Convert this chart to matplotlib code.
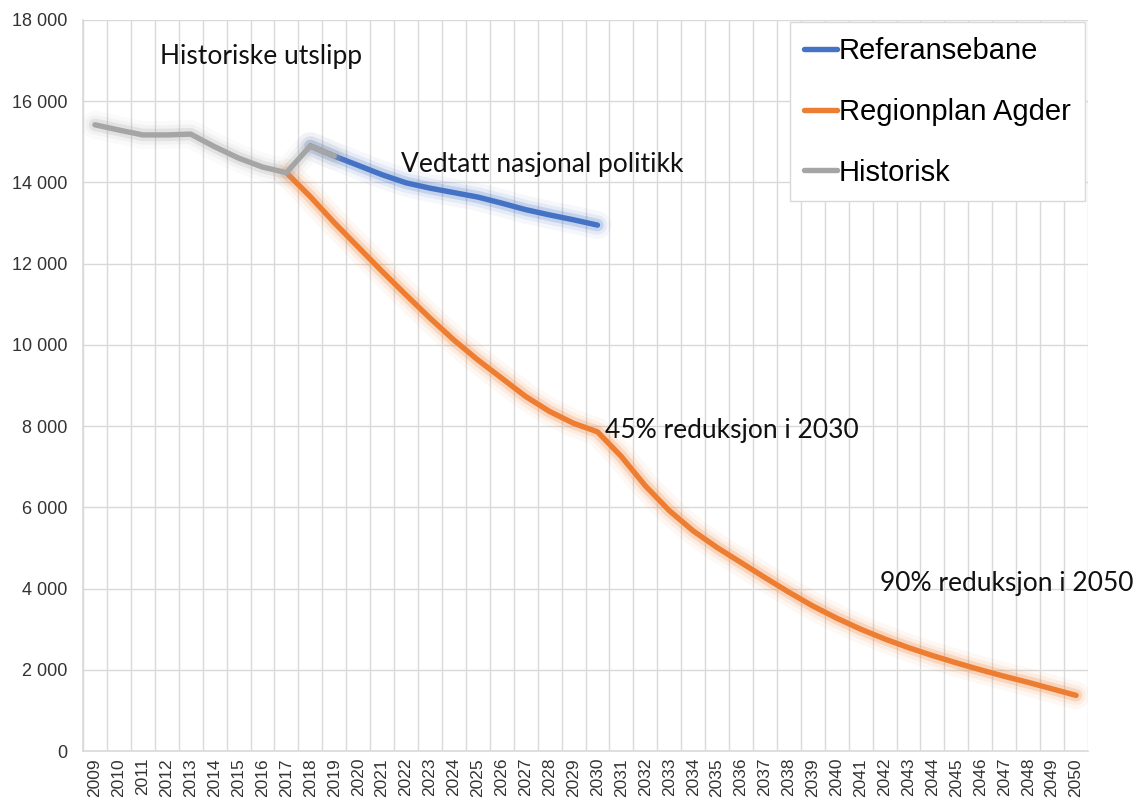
import matplotlib
matplotlib.use("Agg")
import matplotlib.pyplot as plt
import matplotlib.patheffects as pe
from matplotlib.lines import Line2D
from matplotlib.ticker import FuncFormatter, MultipleLocator, FixedLocator

# ---------------- data ----------------
years = list(range(2009, 2051))

hist_years = list(range(2009, 2020))
hist_values = [15420, 15290, 15170, 15170, 15190, 14880, 14600, 14380, 14240, 14900, 14650]

ref_years = list(range(2018, 2031))
ref_values = [14900, 14650, 14420, 14190, 13990, 13860, 13750, 13640, 13490, 13330, 13200, 13080, 12950]

plan_years = list(range(2017, 2051))
plan_values = [14240, 13650, 13010, 12410, 11810, 11230, 10660, 10120, 9630, 9180,
               8730, 8360, 8070, 7860, 7250, 6530, 5920, 5420, 5010, 4640,
               4270, 3910, 3570, 3270, 3000, 2760, 2545, 2350, 2170, 2000,
               1840, 1690, 1530, 1370]

series_names = ["Referansebane", "Regionplan Agder", "Historisk"]
colors = {"Referansebane": "#4472C4", "Regionplan Agder": "#ED7D31", "Historisk": "#A5A5A5"}

annotations = [
    ("Historiske utslipp", 2011.71, 17100),
    ("Vedtatt nasjonal politikk", 2021.79, 14430),
    ("45% reduksjon i 2030", 2030.33, 7900),
    ("90% reduksjon i 2050", 2041.79, 4130),
]

# ---------------- figure ----------------
fig = plt.figure(figsize=(11.39, 8.0), dpi=100)
ax = fig.add_axes([83 / 1139, 1 - 751 / 800, (1088 - 83) / 1139, (751 - 20) / 800])

def idx(ys):
    return [y - years[0] for y in ys]

def glow(c):
    return [pe.Stroke(linewidth=20, foreground=c, alpha=0.05),
            pe.Stroke(linewidth=14, foreground=c, alpha=0.09),
            pe.Stroke(linewidth=9, foreground=c, alpha=0.2),
            pe.Normal()]

lw = 3.9
ax.plot(idx(plan_years), plan_values, color=colors["Regionplan Agder"], lw=lw,
        solid_capstyle="round", solid_joinstyle="round", zorder=3,
        path_effects=glow(colors["Regionplan Agder"]))
ax.plot(idx(ref_years), ref_values, color=colors["Referansebane"], lw=lw,
        solid_capstyle="round", solid_joinstyle="round", zorder=4,
        path_effects=glow(colors["Referansebane"]))
ax.plot(idx(hist_years), hist_values, color=colors["Historisk"], lw=lw,
        solid_capstyle="round", solid_joinstyle="round", zorder=5,
        path_effects=glow(colors["Historisk"]))

ax.set_xlim(-0.5, len(years) - 0.5)
ax.set_ylim(0, 18000)

ax.yaxis.set_major_locator(MultipleLocator(2000))
ax.yaxis.set_major_formatter(FuncFormatter(lambda v, p: f"{int(v):,}".replace(",", " ")))
ax.set_xticks(range(len(years)))
ax.set_xticklabels([str(y) for y in years], rotation=90)
ax.xaxis.set_minor_locator(FixedLocator([i - 0.5 for i in range(len(years) + 1)]))

ax.tick_params(axis="y", length=0, pad=11, labelsize=13, labelcolor="#333333")
ax.tick_params(axis="x", which="both", length=0, pad=5, labelsize=12.5, labelcolor="#333333")
for lab in ax.get_xticklabels() + ax.get_yticklabels():
    lab.set_fontfamily("Liberation Sans")

ax.grid(axis="y", which="major", color="#d9d9d9", lw=1.0)
ax.grid(axis="x", which="minor", color="#d9d9d9", lw=1.0)
ax.grid(axis="x", which="major", visible=False)
ax.set_axisbelow(True)
for s in ["top", "right"]:
    ax.spines[s].set_visible(False)
for s in ["left", "bottom"]:
    ax.spines[s].set_color("#d9d9d9")
    ax.spines[s].set_linewidth(1.2)

for txt, xv, yv in annotations:
    ax.text(xv - years[0], yv, txt, fontsize=19, family="Lato", color="#111111",
            ha="left", va="center", zorder=6)

handles = [Line2D([], [], color=colors[n], lw=lw, solid_capstyle="round") for n in series_names]
leg = ax.legend(handles, series_names, loc="upper right", bbox_to_anchor=(0.997, 0.997),
                prop={"family": "Liberation Sans", "size": 21}, frameon=True, fancybox=False,
                edgecolor="#d9d9d9", framealpha=1, handlelength=1.13, handletextpad=0.05,
                labelspacing=1.13, borderpad=0.5, borderaxespad=0.0)
leg.get_frame().set_linewidth(1.0)
leg.set_zorder(10)

fig.savefig("out.png", dpi=100)
